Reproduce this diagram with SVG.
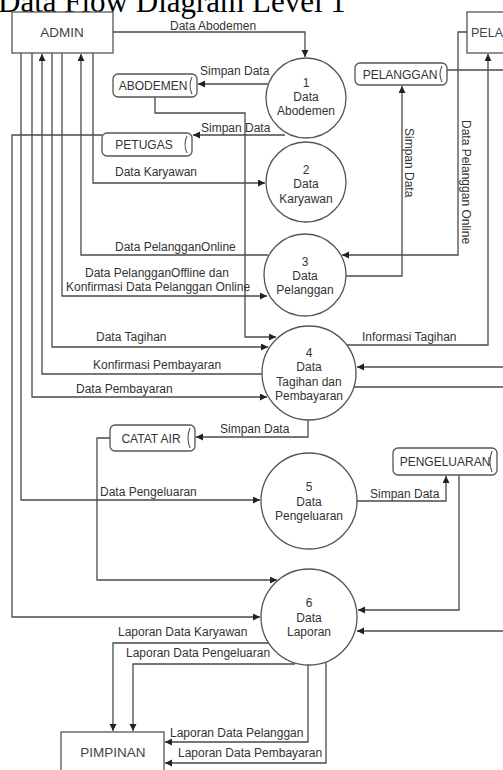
<svg xmlns="http://www.w3.org/2000/svg" width="503" height="770" viewBox="0 0 503 770">
<defs>
<style>
.bg{fill:#ffffff}
.ln{fill:none;stroke:#4a4a4a;stroke-width:1.3}
.arr{marker-end:url(#ah)}
.ent{fill:#ffffff;stroke:#555555;stroke-width:1.3}
.proc{fill:#ffffff;stroke:#555555;stroke-width:1.3}
.st{fill:#ffffff;stroke:#555555;stroke-width:1.3}
.stl{fill:none;stroke:#555555;stroke-width:1.1}
.t{font-family:"Liberation Sans",Arial,sans-serif;font-size:12px;fill:#333333}
.c{text-anchor:middle}
.et{font-family:"Liberation Sans",Arial,sans-serif;font-size:13.5px;fill:#444444;text-anchor:middle}
.title{font-family:"Liberation Serif","Times New Roman",serif;font-size:31px;fill:#000000}
</style>
<marker id="ah" markerUnits="userSpaceOnUse" markerWidth="8" markerHeight="8" refX="7" refY="3.5" orient="auto">
<path d="M0,0 L7,3.5 L0,7 z" fill="#222222"/>
</marker>
</defs>
<rect class="bg" x="0" y="0" width="503" height="770"/>
<text class="title" x="-2" y="12">Data Flow Diagram Level 1</text>

<g id="connectors">
<path class="ln arr" d="M113,32 H305 V57"/>
<path class="ln arr" d="M268,84 H198"/>
<path class="ln arr" d="M285,135 H193"/>
<path class="ln arr" d="M155,97 V113 H245 V337 H276"/>
<path class="ln arr" d="M93,53 V183 H265"/>
<path class="ln arr" d="M268,255 H81 V54"/>
<path class="ln arr" d="M62,53 V296 H267"/>
<path class="ln arr" d="M52,53 V347 H268"/>
<path class="ln arr" d="M262,374 H42 V54"/>
<path class="ln arr" d="M32,53 V397 H267"/>
<path class="ln arr" d="M21,53 V500 H260"/>
<path class="ln arr" d="M102,135 H12 V617 H260"/>
<path class="ln arr" d="M346,276 H402 V86"/>
<path class="ln" d="M447,70 H503"/>
<path class="ln arr" d="M467,32 H458 V255 H342"/>
<path class="ln arr" d="M347,345 H488 V54"/>
<path class="ln arr" d="M503,367 H357"/>
<path class="ln" d="M354,387 H503"/>
<path class="ln arr" d="M308,420 V437 H196"/>
<path class="ln arr" d="M110,438 H97 V580 H277"/>
<path class="ln arr" d="M357,501 H446 V476"/>
<path class="ln arr" d="M459,475 V610 H358"/>
<path class="ln arr" d="M503,631 H357"/>
<path class="ln arr" d="M269,643 H113 V731"/>
<path class="ln arr" d="M295,664 H133 V731"/>
<path class="ln arr" d="M308,665 V742 H165"/>
<path class="ln arr" d="M326,662 V763 H165"/>

<text class="t" x="170" y="30">Data Abodemen</text>
<text class="t" x="200" y="75">Simpan Data</text>
<text class="t" x="201" y="132">Simpan Data</text>
<text class="t" x="115" y="176">Data Karyawan</text>
<text class="t" x="115" y="251">Data PelangganOnline</text>
<text class="t" x="85" y="277">Data PelangganOffline dan</text>
<text class="t" x="66" y="291">Konfirmasi Data Pelanggan Online</text>
<text class="t" x="96" y="341">Data Tagihan</text>
<text class="t" x="93" y="369">Konfirmasi Pembayaran</text>
<text class="t" x="76" y="393">Data Pembayaran</text>
<text class="t" x="362" y="341">Informasi Tagihan</text>
<text class="t" x="220" y="433">Simpan Data</text>
<text class="t" x="100" y="496">Data Pengeluaran</text>
<text class="t" x="370" y="498">Simpan Data</text>
<text class="t" x="118" y="636">Laporan Data Karyawan</text>
<text class="t" x="126" y="657">Laporan Data Pengeluaran</text>
<text class="t" x="170" y="737">Laporan Data Pelanggan</text>
<text class="t" x="178" y="757">Laporan Data Pembayaran</text>
<text class="t" transform="translate(405,128) rotate(90)">Simpan Data</text>
<text class="t" transform="translate(462,120) rotate(90)">Data Pelanggan Online</text>
</g>

<g id="admin">
<rect class="ent" x="12" y="12" width="101" height="41"/>
<text class="et" x="62" y="37">ADMIN</text>
</g>
<g id="pelanggan-entity">
<rect class="ent" x="467" y="12" width="45" height="41"/>
<text class="et" x="471" y="37" style="text-anchor:start;font-size:12.5px">PELA</text>
</g>
<g id="pimpinan">
<rect class="ent" x="61" y="732" width="103" height="45"/>
<text class="et" x="113" y="757">PIMPINAN</text>
</g>

<g id="store-abodemen">
<rect class="st" x="113" y="74" width="84" height="23" rx="5"/>
<path class="stl" d="M192,77 Q188,85.5 192,94"/>
<text class="t c" x="153" y="90">ABODEMEN</text>
</g>
<g id="store-petugas">
<rect class="st" x="102" y="133" width="90" height="23" rx="5"/>
<path class="stl" d="M187,136 Q183,144.5 187,153"/>
<text class="t c" x="144" y="149">PETUGAS</text>
</g>
<g id="store-pelanggan">
<rect class="st" x="355" y="63" width="92" height="22" rx="5"/>
<path class="stl" d="M442,66 Q438,74 442,82"/>
<text class="t c" x="400" y="79">PELANGGAN</text>
</g>
<g id="store-catat-air">
<rect class="st" x="110" y="425" width="85" height="26" rx="5"/>
<path class="stl" d="M190,428 Q186,438 190,448"/>
<text class="t c" x="151" y="443">CATAT  AIR</text>
</g>
<g id="store-pengeluaran">
<rect class="st" x="393" y="448" width="104" height="27" rx="5"/>
<path class="stl" d="M492,451 Q488,461.5 492,472"/>
<text class="t c" x="445" y="466">PENGELUARAN</text>
</g>

<g id="proc-1">
<circle class="proc" cx="306" cy="98" r="40"/>
<text class="t c" x="306" y="87">1</text>
<text class="t c" x="306" y="101">Data</text>
<text class="t c" x="306" y="115">Abodemen</text>
</g>
<g id="proc-2">
<circle class="proc" cx="306" cy="182" r="40"/>
<text class="t c" x="306" y="174">2</text>
<text class="t c" x="306" y="188">Data</text>
<text class="t c" x="306" y="203">Karyawan</text>
</g>
<g id="proc-3">
<circle class="proc" cx="305" cy="275" r="41"/>
<text class="t c" x="305" y="266">3</text>
<text class="t c" x="305" y="280">Data</text>
<text class="t c" x="305" y="294">Pelanggan</text>
</g>
<g id="proc-4">
<circle class="proc" cx="309" cy="373" r="47"/>
<text class="t c" x="309" y="357">4</text>
<text class="t c" x="309" y="371">Data</text>
<text class="t c" x="309" y="386">Tagihan dan</text>
<text class="t c" x="309" y="400">Pembayaran</text>
</g>
<g id="proc-5">
<circle class="proc" cx="309" cy="501" r="48"/>
<text class="t c" x="309" y="491">5</text>
<text class="t c" x="309" y="506">Data</text>
<text class="t c" x="309" y="520">Pengeluaran</text>
</g>
<g id="proc-6">
<circle class="proc" cx="309" cy="617" r="48"/>
<text class="t c" x="309" y="607">6</text>
<text class="t c" x="309" y="622">Data</text>
<text class="t c" x="309" y="636">Laporan</text>
</g>
</svg>
